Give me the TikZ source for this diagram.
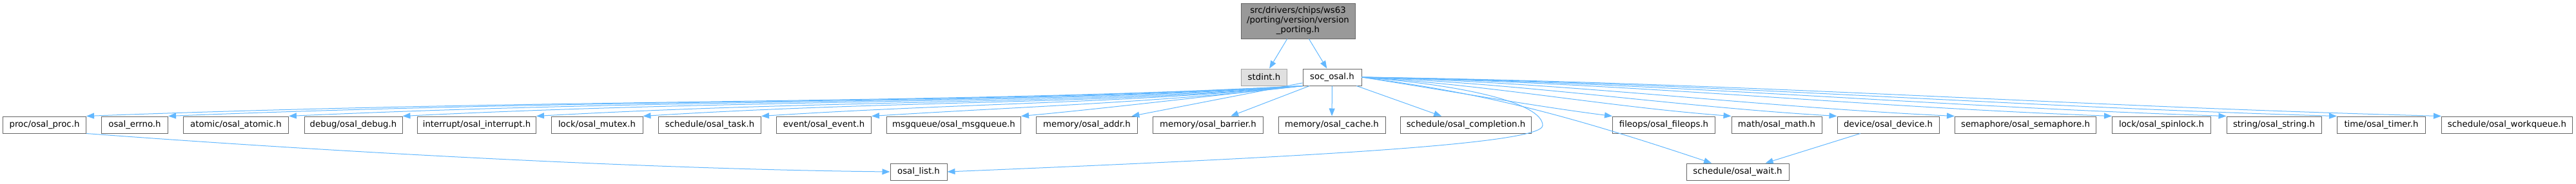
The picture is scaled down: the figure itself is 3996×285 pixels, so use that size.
\documentclass[tikz,border=0pt]{standalone}
\usepackage{fontspec}
\setmainfont{DejaVu Sans}
\usepackage{xcolor}
\definecolor{dxedge}{HTML}{63B8FF}
\definecolor{dxborder}{HTML}{666666}
\definecolor{dxroot}{HTML}{999999}
\definecolor{dxext}{HTML}{E0E0E0}
\usetikzlibrary{arrows.meta,positioning,calc}

\begin{document}
\begin{tikzpicture}[x=1pt,y=-1pt,
  box/.style={draw=dxborder,line width=1pt,fill=white,minimum height=26pt,inner sep=0pt,font=\fontsize{13.3}{15}\selectfont,align=center},
  arr/.style={-{Triangle[length=12pt,width=9pt]},line width=1pt,dxedge}]
  \useasboundingbox (0,0) rectangle (3996,285);
  % Root file
  \node[box,fill=dxroot,minimum width=177pt,minimum height=55pt] (root) at (2013.5,32.5) {src/drivers/chips/ws63\\/porting/version/version\\\_porting.h};
  % Direct includes
  \node[box,fill=dxext,draw=dxborder!60,minimum width=71pt] (stdint) at (1961,120) {stdint.h};
  \node[box,minimum width=91pt] (soc) at (2066.5,120) {soc\_osal.h};
  \draw[arr] (root) -- (stdint);
  \draw[arr] (root) -- (soc);
  % OSAL headers
  \node[box,minimum width=129pt] (proc) at (69,194) {proc/osal\_proc.h};
  \node[box,minimum width=103pt] (errno) at (209,194) {osal\_errno.h};
  \node[box,minimum width=163pt] (atomic) at (366,194) {atomic/osal\_atomic.h};
  \node[box,minimum width=152pt] (debug) at (548,194) {debug/osal\_debug.h};
  \node[box,minimum width=184pt] (interrupt) at (739.5,194) {interrupt/osal\_interrupt.h};
  \node[box,minimum width=142pt] (mutex) at (926,194) {lock/osal\_mutex.h};
  \node[box,minimum width=159pt] (task) at (1101,194) {schedule/osal\_task.h};
  \node[box,minimum width=147pt] (event) at (1278,194) {event/osal\_event.h};
  \node[box,minimum width=208pt] (msgqueue) at (1479.5,194) {msgqueue/osal\_msgqueue.h};
  \node[box,minimum width=157pt] (addr) at (1686,194) {memory/osal\_addr.h};
  \node[box,minimum width=171pt] (barrier) at (1874,194) {memory/osal\_barrier.h};
  \node[box,minimum width=166pt] (cache) at (2066,194) {memory/osal\_cache.h};
  \node[box,minimum width=203pt] (completion) at (2274,194) {schedule/osal\_completion.h};
  \node[box,minimum width=159pt] (fileops) at (2581,194) {fileops/osal\_fileops.h};
  \node[box,minimum width=140pt] (math) at (2756,194) {math/osal\_math.h};
  \node[box,minimum width=158pt] (device) at (2929,194) {device/osal\_device.h};
  \node[box,minimum width=219pt] (semaphore) at (3142,194) {semaphore/osal\_semaphore.h};
  \node[box,minimum width=153pt] (spinlock) at (3353,194) {lock/osal\_spinlock.h};
  \node[box,minimum width=147pt] (string) at (3527.5,194) {string/osal\_string.h};
  \node[box,minimum width=137pt] (timer) at (3694,194) {time/osal\_timer.h};
  \node[box,minimum width=203pt] (workqueue) at (3889,194) {schedule/osal\_workqueue.h};
  % Shared headers
  \node[box,minimum width=88pt] (list) at (1425,267) {osal\_list.h};
  \node[box,minimum width=159pt] (wait) at (2695.5,267) {schedule/osal\_wait.h};
  % soc_osal.h to the left
  \foreach \t/\ax/\ay/\bx/\by in {proc/1455/163/888/152, errno/1493/163/965/152,
      atomic/1549/163/1077/152, debug/1602/163/1183/153, interrupt/1664/163/1308/154,
      mutex/1714/163/1407/155, task/1769/160/1500/160, event/1820/158/1600/165,
      msgqueue/1870/150/1700/170}
    \draw[arr] (soc.south west) .. controls (\ax,\ay) and (\bx,\by) .. (\t.north east);
  \draw[arr] (soc) -- (addr);
  \draw[arr] (soc) -- (barrier);
  \draw[arr] (soc) -- (cache);
  \draw[arr] (soc) -- (completion);
  % soc_osal.h to the right
  \foreach \t/\ax/\ay/\bx/\by in {fileops/2240/140/2380/165, math/2313/132/2485/165,
      device/2370/130/2591/165, semaphore/2434/128/2709/165, spinlock/2519/128/2868/165,
      string/2581/128/2984/165, timer/2641/128/3095/165, workqueue/2698/128/3201/165}
    \draw[arr] (soc.east) .. controls (\ax,\ay) and (\bx,\by) .. (\t.north west);
  % Second level
  \draw[arr] (soc.east) .. controls (2300,145) and (2420,175) .. (wait);
  \draw[arr] (soc.east) .. controls (2300,135) and (2393,165) .. (2393,195)
    .. controls (2393,225) and (2000,245) .. (list.east);
  \draw[arr] (proc.south east) .. controls (500,235) and (1000,263) .. (list.west);
  \draw[arr] (device) -- (wait);
\end{tikzpicture}
\end{document}
